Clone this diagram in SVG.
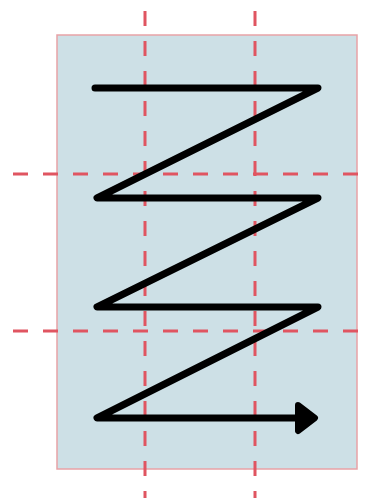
<svg xmlns="http://www.w3.org/2000/svg" width="372" height="498" viewBox="0 0 372 498">
<style>
.grid{stroke:#e05561;stroke-width:3;stroke-dasharray:15 15;fill:none}
.zig{stroke:#000;stroke-width:7;fill:none;stroke-linejoin:round;stroke-linecap:round}
</style>
<rect width="372" height="498" fill="#fff"/>
<g id="page"><rect x="57" y="35" width="300" height="434" fill="#cde0e6" stroke="#e8a2a6" stroke-width="1.5"/></g>
<g id="grid">
<line class="grid" x1="145" y1="11" x2="145" y2="498"/>
<line class="grid" x1="255" y1="11" x2="255" y2="498"/>
<line class="grid" x1="13" y1="174" x2="372" y2="174"/>
<line class="grid" x1="13" y1="331" x2="372" y2="331"/>
</g>
<g id="connectors">
<polyline class="zig" points="95,88 318,88 97,198 318,198 97,307 318,307 97,418 302,418"/>
<polygon points="298,405 315,418 298,431" fill="#000" stroke="#000" stroke-width="6" stroke-linejoin="round"/>
</g>
</svg>
